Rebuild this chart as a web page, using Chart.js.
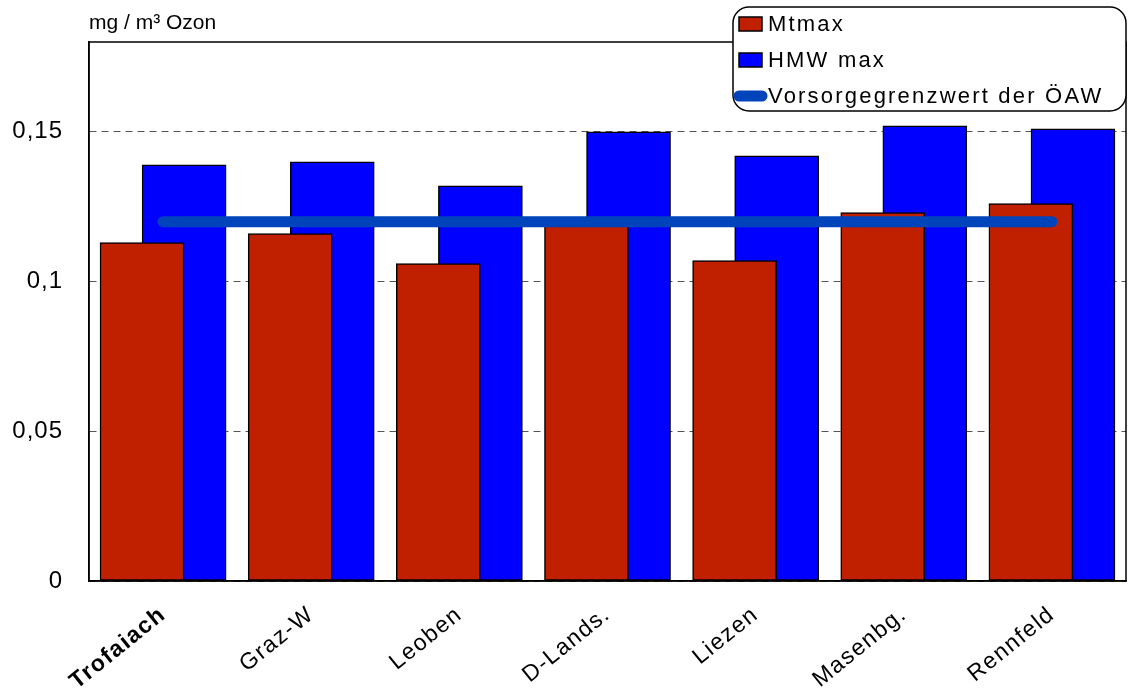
<!DOCTYPE html>
<html>
<head>
<meta charset="utf-8">
<script src="https://cdn.jsdelivr.net/npm/chart.js@4.4.1/dist/chart.umd.min.js"></script>
<style>
  html, body { margin: 0; padding: 0; background: #fff; }
  #wrap { width: 1128px; height: 700px; }
</style>
</head>
<body>
<div id="wrap"><canvas id="c" width="1128" height="700"></canvas></div>
<script>
// Ozone maxima per monitoring station (mg/m³)
const stations = ['Trofaiach', 'Graz-W', 'Leoben', 'D-Lands.', 'Liezen', 'Masenbg.', 'Rennfeld'];
const mtmax    = [0.113, 0.116, 0.106, 0.120, 0.107, 0.123, 0.126];
const hmwMax   = [0.139, 0.140, 0.132, 0.150, 0.142, 0.152, 0.151];
const limitValue = 0.12;   // Vorsorgegrenzwert der ÖAW
const yTicks = [0, 0.05, 0.1, 0.15];

const seriesNames = ['Mtmax', 'HMW max', 'Vorsorgegrenzwert der ÖAW'];
const unitLabel = 'mg / m³ Ozon';

const RED = '#C02000';
const BLUE = '#0000FF';
const LINE_BLUE = '#0044BB';
const FONT = "'Liberation Sans', Arial, sans-serif";

// the two bar series overlap and are shifted left/right of the station position
const SHIFT = 0.142;
const redPts  = mtmax.map((v, i) => ({ x: i - SHIFT, y: v }));
const bluePts = hmwMax.map((v, i) => ({ x: i + SHIFT, y: v }));
const limitPts = stations.map((s, i) => ({ x: i, y: limitValue }));

// widen the spacing of the axis labels
const spacedLabels = {
  id: 'spacedLabels',
  afterLayout(chart) {
    const spacing = { x: '1.5px', y: '1px' };
    Object.keys(spacing).forEach(id => {
      const scale = chart.scales[id];
      if (!scale || scale._spaced) return;
      const orig = scale.drawLabels;
      scale.drawLabels = function (area) {
        const ctx = this.ctx;
        ctx.save();
        ctx.letterSpacing = spacing[id];
        orig.call(this, area);
        ctx.restore();
      };
      scale._spaced = true;
    });
  }
};

const frame = {
  id: 'frame',
  afterDraw(chart) {
    const ctx = chart.ctx;
    const a = chart.chartArea;
    ctx.save();
    // plot frame
    ctx.strokeStyle = '#000';
    ctx.lineWidth = 1.5;
    ctx.strokeRect(a.left, a.top, a.right - a.left, a.bottom - a.top);

    // unit label above the value axis
    ctx.fillStyle = '#000';
    ctx.font = '21px ' + FONT;
    ctx.textBaseline = 'alphabetic';
    ctx.textAlign = 'left';
    ctx.fillText(unitLabel, 89, 29);

    // legend box
    const bx = 733, by = 7, bw = 393, bh = 104, r = 16;
    ctx.beginPath();
    ctx.roundRect(bx, by, bw, bh, r);
    ctx.fillStyle = '#fff';
    ctx.fill();
    ctx.lineWidth = 1.5;
    ctx.strokeStyle = '#000';
    ctx.stroke();

    const rows = [24, 60, 96];
    [RED, BLUE].forEach((c, k) => {
      ctx.fillStyle = c;
      ctx.fillRect(739, rows[k] - 7, 23, 14);
      ctx.strokeStyle = '#000';
      ctx.lineWidth = 1.5;
      ctx.strokeRect(739, rows[k] - 7, 23, 14);
    });
    ctx.beginPath();
    ctx.moveTo(739, rows[2]);
    ctx.lineTo(762, rows[2]);
    ctx.lineWidth = 11;
    ctx.lineCap = 'round';
    ctx.strokeStyle = LINE_BLUE;
    ctx.stroke();

    ctx.font = '22px ' + FONT;
    ctx.letterSpacing = '2.2px';
    ctx.textBaseline = 'middle';
    ctx.fillStyle = '#000';
    seriesNames.forEach((n, k) => ctx.fillText(n, 768, rows[k] + 1));
    ctx.restore();
  }
};

new Chart(document.getElementById('c'), {
  type: 'bar',
  data: {
    datasets: [
      {
        type: 'line',
        label: seriesNames[2],
        data: limitPts,
        borderColor: LINE_BLUE,
        borderWidth: 11,
        borderCapStyle: 'round',
        pointRadius: 0,
        fill: false,
        order: 0
      },
      {
        label: seriesNames[0],
        data: redPts,
        backgroundColor: RED,
        borderColor: '#000',
        borderWidth: 1.5,
        borderSkipped: false,
        barThickness: 84,
        grouped: false,
        order: 1
      },
      {
        label: seriesNames[1],
        data: bluePts,
        backgroundColor: BLUE,
        borderColor: '#000',
        borderWidth: 1.5,
        borderSkipped: false,
        barThickness: 84,
        grouped: false,
        order: 2
      }
    ]
  },
  options: {
    responsive: false,
    animation: false,
    layout: { padding: { top: 42, right: 2, left: 0, bottom: 0 } },
    plugins: { legend: { display: false }, tooltip: { enabled: false } },
    scales: {
      x: {
        type: 'linear',
        min: -0.5,
        max: 6.5,
        offset: false,
        afterBuildTicks(scale) { scale.ticks = stations.map((s, i) => ({ value: i })); },
        afterFit(scale) { scale.height = 119; },
        grid: { display: false },
        border: { display: true, color: '#000', width: 1.5 },
        ticks: {
          autoSkip: false,
          minRotation: 39,
          maxRotation: 39,
          padding: 12,
          color: '#000',
          font: (ctx) => ({ family: FONT, size: 23, weight: ctx.index === 0 ? 'bold' : 'normal' }),
          callback: (v) => stations[Math.round(v)]
        }
      },
      y: {
        min: 0,
        max: 0.18,
        afterBuildTicks(scale) { scale.ticks = yTicks.map(v => ({ value: v })); },
        afterFit(scale) { scale.width = 89; },
        grid: { color: '#555', lineWidth: 1, drawTicks: false },
        border: { display: true, color: '#000', width: 1.5, dash: [7, 5] },
        ticks: {
          padding: 26,
          color: '#000',
          font: { family: FONT, size: 24 },
          callback: (v) => String(+v.toFixed(2)).replace('.', ',')
        }
      }
    }
  },
  plugins: [spacedLabels, frame]
});
</script>
</body>
</html>
